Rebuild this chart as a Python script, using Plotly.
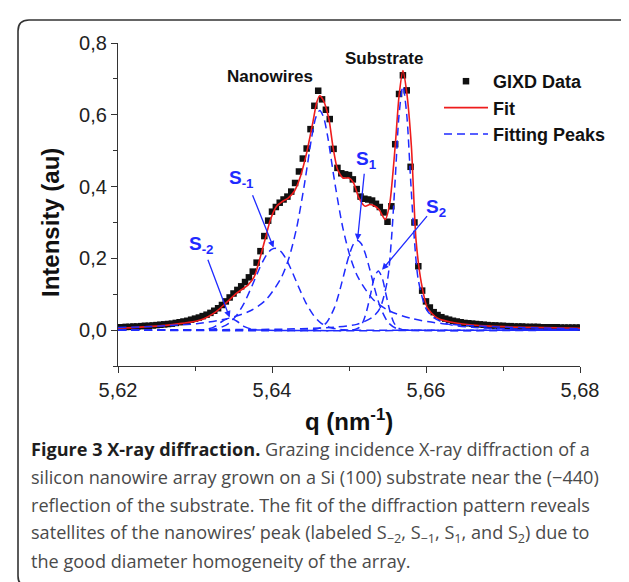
import plotly.graph_objects as go

# ---------------- data ----------------
q_data = [5.6200, 5.6205, 5.6210, 5.6215, 5.6220, 5.6225, 5.6230, 5.6235, 5.6240, 5.6245,
          5.6250, 5.6255, 5.6260, 5.6265, 5.6270, 5.6275, 5.6280, 5.6285, 5.6290, 5.6295,
          5.6300, 5.6305, 5.6310, 5.6315, 5.6320, 5.6325, 5.6330, 5.6335, 5.6340, 5.6345,
          5.6350, 5.6355, 5.6360, 5.6365, 5.6370, 5.6375, 5.6380, 5.6385, 5.6390, 5.6395,
          5.6400, 5.6405, 5.6410, 5.6415, 5.6420, 5.6425, 5.6430, 5.6435, 5.6440, 5.6445,
          5.6450, 5.6455, 5.6460, 5.6465, 5.6470, 5.6475, 5.6480, 5.6485, 5.6490, 5.6495,
          5.6500, 5.6505, 5.6510, 5.6515, 5.6520, 5.6525, 5.6530, 5.6535, 5.6540, 5.6545,
          5.6550, 5.6555, 5.6560, 5.6565, 5.6570, 5.6575, 5.6580, 5.6585, 5.6590, 5.6595,
          5.6600, 5.6605, 5.6610, 5.6615, 5.6620, 5.6625, 5.6630, 5.6635, 5.6640, 5.6645,
          5.6650, 5.6655, 5.6660, 5.6665, 5.6670, 5.6675, 5.6680, 5.6685, 5.6690, 5.6695,
          5.6700, 5.6705, 5.6710, 5.6715, 5.6720, 5.6725, 5.6730, 5.6735, 5.6740, 5.6745,
          5.6750, 5.6755, 5.6760, 5.6765, 5.6770, 5.6775, 5.6780, 5.6785, 5.6790, 5.6795,
          5.6800]
i_data = [0.008, 0.008, 0.009, 0.009, 0.010, 0.010, 0.011, 0.012, 0.012, 0.013,
          0.014, 0.015, 0.016, 0.017, 0.018, 0.020, 0.022, 0.024, 0.026, 0.029,
          0.032, 0.035, 0.039, 0.043, 0.048, 0.054, 0.061, 0.070, 0.080, 0.091,
          0.102, 0.112, 0.122, 0.134, 0.147, 0.163, 0.188, 0.220, 0.262, 0.305,
          0.330, 0.343, 0.355, 0.364, 0.372, 0.386, 0.410, 0.442, 0.478, 0.506,
          0.560, 0.625, 0.667, 0.643, 0.614, 0.588, 0.505, 0.452, 0.437, 0.434,
          0.432, 0.420, 0.393, 0.372, 0.366, 0.364, 0.361, 0.352, 0.343, 0.328,
          0.302, 0.345, 0.518, 0.658, 0.710, 0.668, 0.455, 0.300, 0.178, 0.110,
          0.080, 0.063, 0.050, 0.042, 0.036, 0.032, 0.029, 0.026, 0.024, 0.022,
          0.020, 0.019, 0.018, 0.017, 0.016, 0.015, 0.014, 0.013, 0.013, 0.012,
          0.012, 0.011, 0.011, 0.010, 0.010, 0.010, 0.009, 0.009, 0.009, 0.009,
          0.008, 0.008, 0.008, 0.008, 0.008, 0.007, 0.007, 0.007, 0.007, 0.007,
          0.007]

q_fit = [5.6200, 5.6265, 5.6307, 5.6327, 5.6340, 5.6354, 5.6369, 5.6377, 5.6385, 5.6392,
         5.6398, 5.6406, 5.6414, 5.6421, 5.6429, 5.6437, 5.6445, 5.6453, 5.6458, 5.6462,
         5.6467, 5.6474, 5.6479, 5.6485, 5.6492, 5.6500, 5.6506, 5.6513, 5.6521, 5.6527,
         5.6532, 5.6539, 5.6547, 5.6553, 5.6560, 5.6565, 5.6570, 5.6575, 5.6581, 5.6587,
         5.6594, 5.6602, 5.6615, 5.6641, 5.6683, 5.6735, 5.6800]
i_fit = [0.005, 0.014, 0.028, 0.051, 0.075, 0.103, 0.126, 0.149, 0.205, 0.261,
         0.308, 0.345, 0.359, 0.368, 0.387, 0.429, 0.494, 0.578, 0.634, 0.653,
         0.639, 0.587, 0.513, 0.448, 0.424, 0.424, 0.410, 0.368, 0.345, 0.350,
         0.347, 0.336, 0.308, 0.354, 0.513, 0.653, 0.723, 0.662, 0.513, 0.252,
         0.131, 0.061, 0.033, 0.019, 0.011, 0.0075, 0.005]

# fitting peaks (dashed)
q_main = [5.6200, 5.6262, 5.6302, 5.6342, 5.6372, 5.6392, 5.6412, 5.6422, 5.6432, 5.6442,
          5.6452, 5.6457, 5.6462, 5.6467, 5.6472, 5.6482, 5.6492, 5.6502, 5.6512, 5.6532,
          5.6552, 5.6582, 5.6622, 5.6662, 5.6722, 5.6800]
i_main = [0.007, 0.012, 0.018, 0.032, 0.054, 0.084, 0.146, 0.201, 0.285, 0.405,
          0.543, 0.593, 0.612, 0.593, 0.543, 0.405, 0.285, 0.201, 0.146, 0.084,
          0.054, 0.032, 0.018, 0.012, 0.007, 0.004]

q_sub = [5.6200, 5.6420, 5.6480, 5.6510, 5.6530, 5.6540, 5.6550, 5.6555, 5.6560, 5.6565,
         5.6570, 5.6575, 5.6580, 5.6585, 5.6590, 5.6600, 5.6610, 5.6630, 5.6660, 5.6720,
         5.6800]
i_sub = [0.0005, 0.003, 0.008, 0.016, 0.035, 0.060, 0.140, 0.250, 0.420, 0.600,
         0.680, 0.600, 0.420, 0.250, 0.140, 0.060, 0.035, 0.016, 0.008, 0.003,
         0.0015]

q_s1 = [5.6200, 5.6441, 5.6451, 5.6461, 5.6471, 5.6481, 5.6486, 5.6491, 5.6496, 5.6501,
        5.6506, 5.6511, 5.6516, 5.6521, 5.6526, 5.6531, 5.6536, 5.6541, 5.6551, 5.6561,
        5.6571, 5.6581, 5.6800]
i_s1 = [0.0, 0.0, 0.001, 0.005, 0.021, 0.062, 0.095, 0.135, 0.177, 0.214,
        0.2405, 0.250, 0.2405, 0.214, 0.177, 0.135, 0.095, 0.062, 0.021, 0.005,
        0.001, 0.0, 0.0]

q_s2 = [5.6200, 5.6503, 5.6508, 5.6513, 5.6518, 5.6523, 5.6528, 5.6533, 5.6538, 5.6543,
        5.6548, 5.6553, 5.6558, 5.6563, 5.6568, 5.6573, 5.6800]
i_s2 = [0.0, 0.0, 0.002, 0.007, 0.022, 0.054, 0.100, 0.146, 0.165, 0.146,
        0.100, 0.054, 0.022, 0.007, 0.002, 0.0, 0.0]

q_sm1 = [5.6200, 5.6304, 5.6314, 5.6324, 5.6334, 5.6344, 5.6354, 5.6364, 5.6374, 5.6384,
         5.6389, 5.6394, 5.6399, 5.6404, 5.6409, 5.6414, 5.6419, 5.6424, 5.6434, 5.6444,
         5.6454, 5.6464, 5.6474, 5.6484, 5.6494, 5.6504, 5.6800]
i_sm1 = [0.0, 0.0, 0.001, 0.003, 0.008, 0.019, 0.041, 0.076, 0.123, 0.173,
         0.195, 0.213, 0.224, 0.228, 0.224, 0.213, 0.195, 0.173, 0.123, 0.076,
         0.041, 0.019, 0.008, 0.003, 0.001, 0.0, 0.0]

q_sm2 = [5.6200, 5.6305, 5.6315, 5.6325, 5.6330, 5.6335, 5.6340, 5.6345, 5.6350, 5.6355,
         5.6360, 5.6365, 5.6375, 5.6385, 5.6800]
i_sm2 = [0.0, 0.0, 0.002, 0.009, 0.016, 0.024, 0.030, 0.032, 0.030, 0.024,
         0.016, 0.009, 0.002, 0.0, 0.0]

x_ticks = [5.62, 5.64, 5.66, 5.68]
x_minor = [5.63, 5.65, 5.67]
y_ticks = [0.0, 0.2, 0.4, 0.6, 0.8]
y_minor = [-0.1, 0.1, 0.3, 0.5, 0.7]

caption_lines = [
    "<span style='color:#1e1e1e'><b>Figure 3 X-ray diffraction.</b></span> Grazing incidence X-ray diffraction of a",
    "silicon nanowire array grown on a Si (100) substrate near the (\u2212440)",
    "reflection of the substrate. The fit of the diffraction pattern reveals",
    "satellites of the nanowires\u2019 peak (labeled S<sub>\u22122</sub>, S<sub>\u22121</sub>, S<sub>1</sub>, and S<sub>2</sub>) due to",
    "the good diameter homogeneity of the array.",
]

# ---------------- figure ----------------
W, H = 629, 582
ML, MR, MT, MB = 110, 57, 35, 224
PW, PH = W - ML - MR, H - MT - MB

def px_x(px):
    return (px - ML) / PW

def px_y(py):
    return (H - MB - py) / PH

BLUE = "#1f2bff"
RED = "#ee1c1c"
FONT = "Liberation Sans, Arial, sans-serif"

fig = go.Figure()
fig.add_trace(go.Scatter(x=q_data, y=i_data, mode="markers", name="GIXD Data",
                         marker=dict(symbol="square", size=6.5, color="#111111")))
fig.add_trace(go.Scatter(x=q_fit, y=i_fit, mode="lines", name="Fit",
                         line=dict(color=RED, width=1.6, shape="spline", smoothing=0.6)))
peaks = [(q_main, i_main), (q_sub, i_sub), (q_s1, i_s1), (q_s2, i_s2), (q_sm1, i_sm1), (q_sm2, i_sm2)]
for k, (qq, ii) in enumerate(peaks):
    fig.add_trace(go.Scatter(x=qq, y=ii, mode="lines", name="Fitting Peaks",
                             showlegend=(k == 0),
                             line=dict(color=BLUE, width=1.5, dash="8px,5px",
                                       shape="spline", smoothing=0.8)))

annotations = []
# axis titles
annotations.append(dict(text="<b>Intensity (au)</b>", xref="paper", yref="paper",
                        x=px_x(42), y=px_y(215), xanchor="center", yanchor="middle",
                        textangle=-90, showarrow=False,
                        font=dict(family=FONT, size=24, color="#111111")))
annotations.append(dict(text="<b>q (nm<sup>-1</sup>)</b>", xref="paper", yref="paper",
                        x=0.5, y=px_y(412), showarrow=False, xanchor="center", yanchor="middle",
                        font=dict(family=FONT, size=24, color="#111111")))
# peak names
annotations.append(dict(text="<b>Nanowires</b>", xref="x", yref="y", x=5.6398, y=0.708,
                        showarrow=False, font=dict(family=FONT, size=17, color="#111111")))
annotations.append(dict(text="<b>Substrate</b>", xref="x", yref="y", x=5.6545, y=0.756,
                        showarrow=False, font=dict(family=FONT, size=17, color="#111111")))
# satellite labels
sat_labels = [("S<sub>-2</sub>", 5.6290, 0.236), ("S<sub>-1</sub>", 5.6342, 0.421),
              ("S<sub>1</sub>", 5.6506, 0.474), ("S<sub>2</sub>", 5.6597, 0.339)]
for t, xx, yy in sat_labels:
    annotations.append(dict(text="<b>" + t + "</b>", xref="x", yref="y", x=xx, y=yy,
                            xanchor="left", yanchor="middle", showarrow=False,
                            font=dict(family=FONT, size=19, color=BLUE)))
# arrows (tail -> head)
arrows = [((5.6316, 0.200), (5.6345, 0.035)),
          ((5.6374, 0.380), (5.6402, 0.230)),
          ((5.6520, 0.440), (5.6511, 0.250)),
          ((5.6603, 0.322), (5.6543, 0.168))]
for (tx, ty), (hx, hy) in arrows:
    annotations.append(dict(text="", xref="x", yref="y", x=hx, y=hy, axref="x", ayref="y",
                            ax=tx, ay=ty, showarrow=True, arrowhead=2, arrowsize=1.0,
                            arrowwidth=1.3, arrowcolor=BLUE, standoff=0))
# caption
cap_y = [441, 469, 497, 525, 553]
for line, yy in zip(caption_lines, cap_y):
    annotations.append(dict(text=line, xref="paper", yref="paper", x=px_x(21), y=px_y(yy),
                            xanchor="left", yanchor="middle", showarrow=False,
                            font=dict(family="Open Sans, sans-serif", size=18.1, color="#4a4a4a")))

# rounded frame
x0, x1, y0, y1, r = 10, 627, 12, 579, 11
path = (f"M {px_x(x0 + r)},{px_y(y0)} L {px_x(x1 - r)},{px_y(y0)} "
        f"Q {px_x(x1)},{px_y(y0)} {px_x(x1)},{px_y(y0 + r)} "
        f"L {px_x(x1)},{px_y(y1 - r)} Q {px_x(x1)},{px_y(y1)} {px_x(x1 - r)},{px_y(y1)} "
        f"L {px_x(x0 + r)},{px_y(y1)} Q {px_x(x0)},{px_y(y1)} {px_x(x0)},{px_y(y1 - r)} "
        f"L {px_x(x0)},{px_y(y0 + r)} Q {px_x(x0)},{px_y(y0)} {px_x(x0 + r)},{px_y(y0)} Z")
shapes = [dict(type="path", xref="paper", yref="paper", path=path,
               line=dict(color="#333333", width=1.6), fillcolor="rgba(0,0,0,0)", layer="below")]

axis_common = dict(showline=True, linecolor="#333333", linewidth=1.3, mirror=False,
                   ticks="outside", ticklen=6, tickwidth=1.3, tickcolor="#333333",
                   showgrid=False, zeroline=False,
                   tickfont=dict(family=FONT, size=20, color="#222222"))

fig.update_layout(
    width=W, height=H,
    margin=dict(l=ML, r=MR, t=MT, b=MB, pad=0),
    paper_bgcolor="white", plot_bgcolor="white",
    separators=",.",
    showlegend=True,
    legend=dict(x=px_x(431), y=px_y(55), xanchor="left", yanchor="top",
                bgcolor="rgba(0,0,0,0)", itemwidth=44, tracegroupgap=0,
                font=dict(family=FONT, size=18, color="#111111", weight="bold")),
    xaxis=dict(range=[5.62, 5.68], tickvals=x_ticks, tickformat=".2f",
               minor=dict(tickvals=x_minor, ticks="outside", ticklen=3.5, tickwidth=1.2,
                          tickcolor="#333333"),
               **axis_common),
    yaxis=dict(range=[-0.1, 0.8], tickvals=y_ticks, tickformat=".1f",
               minor=dict(tickvals=y_minor, ticks="outside", ticklen=3.5, tickwidth=1.2,
                          tickcolor="#333333"),
               **axis_common),
    annotations=annotations,
    shapes=shapes,
)

fig.write_html("out.html")
